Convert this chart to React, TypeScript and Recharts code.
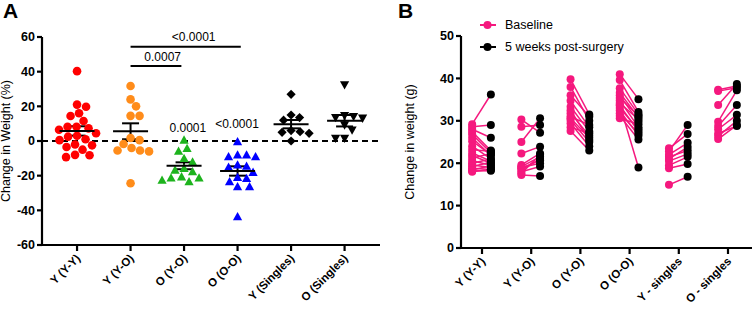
import React from 'react';
import {
  ComposedChart,
  Scatter,
  Line,
  XAxis,
  YAxis,
  ReferenceLine,
  ReferenceDot,
  ErrorBar,
  Legend,
} from 'recharts';

const FONT = '"Liberation Sans", Arial, Helvetica, sans-serif';

// ---------------- Panel A data ----------------
const groupsA = ['Y (Y-Y)', 'Y (Y-O)', 'O (Y-O)', 'O (O-O)', 'Y (Singles)', 'O (Singles)'];
const changeYYY = [40.3, 21, 19.8, 16, 14.4, 11.5, 8.2, 8.2, 7.3, 6.5, 4.5, 3, 2.5, 1, 0.5, -2, -2.5, -3.5, -5, -8, -8.2, -9.3];
const changeYYO = [31.7, 24, 20, 14.5, 14.5, 1.7, 0.5, -1.7, -4, -5.5, -5.5, -6, -24.4];
const changeOYO = [0.6, -4.2, -5.8, -10, -12, -15.7, -16.7, -17.7, -20.6, -21.3, -21.3, -22.5, -23.4];
const changeOOO = [-0.4, -8, -8, -9, -9, -13.8, -14.5, -15, -18, -21, -21.5, -23.4, -26.3, -26.3, -43.6];
const changeYS = [26.9, 15, 13.5, 12, 6, 5.4, 5, 4.4, 0];
const changeOS = [32.3, 14.6, 14, 13.4, 13.1, 9.2, 6.3, 1.5, 1.5];
const meanA = [5.8, 5.6, -14.3, -17.3, 9.7, 11.7];
const semA = [2.7, 4.6, 2.0, 2.7, 2.4, 3.3];
const ticksA = [-60, -40, -20, 0, 20, 40, 60];
const colorsA = ['#ff0000', '#ff8c1a', '#1db31d', '#0000ff', '#000000', '#000000'];
const shapesA = ['circle', 'circle', 'triangle', 'triangle', 'diamond', 'triangleDown'];

// significance brackets
const sigText = ['0.0007', '<0.0001'];
const sigY = [43.2, 54.4];
const sigFrom = [1, 1];
const sigTo = [1.95, 3.06];
const sigTextX = [1.6, 2.18];
const sigTextY = [48.6, 60.2];
// p-values above single groups
const pText = ['0.0001', '<0.0001'];
const pTextX = [2.07, 2.99];
const pTextY = [7.5, 9.8];

// ---------------- Panel B data ----------------
const groupsB = ['Y (Y-Y)', 'Y (Y-O)', 'O (Y-O)', 'O (O-O)', 'Y - singles', 'O - singles'];
const baseYYY = [29.2, 28.6, 28.0, 27.4, 26.8, 26.0, 25.2, 24.0, 23.2, 22.4, 21.8, 21.2, 20.6, 20.0, 19.6, 19.2, 18.8, 18.4, 18.0, 18.2];
const postYYY = [36.2, 29.0, 26.0, 23.0, 22.5, 21.8, 22.0, 21.0, 22.8, 20.5, 20.0, 22.3, 19.5, 21.0, 19.0, 20.2, 18.5, 19.4, 18.6, 18.2];
const baseYYO = [30.3, 28.6, 25.0, 22.3, 19.6, 19.2, 18.8, 18.4, 18.0, 17.6, 17.2, 19.0];
const postYYO = [27.2, 29.0, 30.6, 23.9, 22.3, 21.5, 20.7, 21.0, 19.2, 22.0, 17.0, 20.0];
const baseOYO = [39.8, 38.0, 34.7, 33.3, 31.8, 31.0, 30.2, 29.4, 28.5, 27.6, 32.5, 30.6, 36.0];
const postOYO = [31.5, 30.0, 28.5, 27.5, 26.5, 29.0, 25.0, 24.0, 27.0, 23.0, 25.5, 26.0, 31.0];
const baseOOO = [41.0, 39.6, 37.7, 36.6, 36.0, 35.4, 34.8, 34.2, 33.6, 33.0, 32.4, 31.8, 31.2, 30.6, 33.8];
const postOOO = [35.1, 32.1, 31.5, 30.8, 29.8, 31.2, 28.5, 30.3, 27.5, 28.0, 26.5, 27.0, 25.6, 29.2, 19.0];
const baseYS = [22.8, 23.5, 22.0, 21.0, 21.5, 20.5, 19.5, 18.8, 14.9];
const postYS = [29.0, 26.9, 24.8, 23.8, 23.0, 22.2, 21.5, 19.8, 16.8];
const baseOS = [37.3, 37.0, 33.7, 29.8, 28.8, 28.0, 27.0, 26.4, 25.7];
const postOS = [38.2, 37.8, 38.7, 37.2, 33.7, 31.4, 28.8, 30.0, 29.0];
const ticksB = [0, 10, 20, 30, 40, 50];
const legendLabels = ['Baseline', '5 weeks post-surgery'];
const PINK = '#f5187e';
const legendColors = [PINK, '#000000'];

// ---------------- helpers ----------------
function swarmOffsets(values: number[], pxPerY: number, pxPerX: number, diam: number): number[] {
  const order = values.map((_, i) => i).sort((a, b) => values[b] - values[a]);
  const placed: { x: number; y: number }[] = [];
  const out = new Array(values.length).fill(0);
  for (const i of order) {
    const y = values[i] * pxPerY;
    let chosen = 0;
    for (let k = 0; k < 400; k++) {
      const c = k === 0 ? 0 : (k % 2 === 1 ? 1 : -1) * Math.ceil(k / 2) * 0.5;
      if (placed.every((p) => (p.x - c) ** 2 + (p.y - y) ** 2 >= diam * diam)) {
        chosen = c;
        break;
      }
    }
    placed.push({ x: chosen, y });
    out[i] = chosen / pxPerX;
  }
  return out;
}

const seriesA = [changeYYY, changeYYO, changeOYO, changeOOO, changeYS, changeOS];
const pointsA = seriesA.map((vals, g) => {
  const offs = swarmOffsets(vals, 208 / 120, 53.5, 8.8);
  return vals.map((v, i) => ({ x: g + offs[i], y: v }));
});
const meanData = meanA.map((m, g) => ({ x: g, y: m, err: semA[g] }));

const pairsB = [
  [baseYYY, postYYY],
  [baseYYO, postYYO],
  [baseOYO, postOYO],
  [baseOOO, postOOO],
  [baseYS, postYS],
  [baseOS, postOS],
];

const makeShape = (kind: string, color: string) => (p: any) => {
  const { cx, cy } = p;
  if (cx == null || cy == null) return <g />;
  const s = 4.6;
  if (kind === 'circle') return <circle cx={cx} cy={cy} r={4.3} fill={color} />;
  if (kind === 'triangle')
    return <polygon points={`${cx},${cy - s} ${cx + s},${cy + s * 0.8} ${cx - s},${cy + s * 0.8}`} fill={color} />;
  if (kind === 'triangleDown')
    return <polygon points={`${cx - s},${cy - s * 0.8} ${cx + s},${cy - s * 0.8} ${cx},${cy + s}`} fill={color} />;
  return <polygon points={`${cx},${cy - s} ${cx + s},${cy} ${cx},${cy + s} ${cx - s},${cy}`} fill={color} />;
};

const MeanShape = (p: any) => {
  const { cx, cy } = p;
  if (cx == null || cy == null) return <g />;
  return <line x1={cx - 17.5} x2={cx + 17.5} y1={cy} y2={cy} stroke="#000" strokeWidth={2} />;
};

const makeXTick = (labels: string[]) => (props: any) => {
  const { x, y, payload } = props;
  const tx = x + 4;
  const ty = y + 6;
  return (
    <text
      x={tx}
      y={ty}
      transform={`rotate(-45 ${tx} ${ty})`}
      textAnchor="end"
      fontSize={11.5}
      fontWeight="bold"
      fill="#000"
      fontFamily={FONT}
    >
      {labels[Math.round(payload.value)]}
    </text>
  );
};

const AxisTitle = (props: any) => {
  const { viewBox, text, bx, fallbackY } = props;
  const y = viewBox && viewBox.height ? viewBox.y + viewBox.height / 2 : fallbackY;
  return (
    <text
      x={bx}
      y={y}
      transform={`rotate(-90 ${bx} ${y})`}
      textAnchor="middle"
      fontSize={12.5}
      fill="#000"
      fontFamily={FONT}
    >
      {text}
    </text>
  );
};

const textShape = (label: string) => (p: any) => (
  <text x={p.cx} y={p.cy} dy="0.35em" textAnchor="middle" fontSize={12} fill="#000" fontFamily={FONT}>
    {label}
  </text>
);

const BDot = (p: any) => {
  const { cx, cy, index } = p;
  if (cx == null || cy == null) return <g key={p.key} />;
  return <circle key={p.key} cx={cx} cy={cy} r={4} fill={index === 0 ? PINK : '#000'} />;
};

const LegendContent = () => (
  <div style={{ fontFamily: FONT, fontSize: 12.5, color: '#000' }}>
    {legendLabels.map((lab, i) => (
      <div key={lab} style={{ display: 'flex', alignItems: 'center', height: 22 }}>
        <svg width={16} height={10} style={{ display: 'block' }}>
          <line x1={0} x2={16} y1={5} y2={5} stroke={legendColors[i]} strokeWidth={2} />
          <circle cx={7.5} cy={5} r={4} fill={legendColors[i]} />
        </svg>
        <span style={{ marginLeft: 9, whiteSpace: 'nowrap' }}>{lab}</span>
      </div>
    ))}
  </div>
);

const axisStyle = { stroke: '#000', strokeWidth: 2.2 };
const yTickStyle = { fontSize: 12.5, fontWeight: 'bold', fill: '#000', fontFamily: FONT };

export default function App() {
  return (
    <div style={{ position: 'absolute', left: 0, top: 0, width: 754, height: 310, background: '#fff' }}>
      <div style={{ position: 'absolute', left: 0, top: 0 }}>
        <ComposedChart width={380} height={310} margin={{ top: 37, right: 0, bottom: 5, left: 0 }}>
          <XAxis
            type="number"
            dataKey="x"
            domain={[-0.655, 5.662]}
            ticks={[0, 1, 2, 3, 4, 5]}
            height={60}
            tickSize={6}
            tickLine={axisStyle}
            axisLine={axisStyle}
            tick={makeXTick(groupsA)}
            interval={0}
          />
          <YAxis
            type="number"
            dataKey="y"
            domain={[-60, 60]}
            ticks={ticksA}
            width={42}
            tickSize={5}
            tickMargin={2}
            tickLine={axisStyle}
            axisLine={axisStyle}
            tick={yTickStyle}
            interval={0}
            label={<AxisTitle text="Change in Weight (%)" bx={10} fallbackY={141} />}
          />
          <ReferenceLine y={0} stroke="#000" strokeWidth={2} strokeDasharray="6 4" />
          {sigText.map((t, i) => (
            <ReferenceLine
              key={'sb' + i}
              segment={[
                { x: sigFrom[i], y: sigY[i] },
                { x: sigTo[i], y: sigY[i] },
              ]}
              stroke="#000"
              strokeWidth={2}
              ifOverflow="visible"
            />
          ))}
          {sigText.map((t, i) => (
            <ReferenceDot key={'st' + i} x={sigTextX[i]} y={sigTextY[i]} r={0} ifOverflow="visible" shape={textShape(t)} />
          ))}
          {pText.map((t, i) => (
            <ReferenceDot key={'pt' + i} x={pTextX[i]} y={pTextY[i]} r={0} ifOverflow="visible" shape={textShape(t)} />
          ))}
          {pointsA.map((pts, g) => (
            <Scatter
              key={'g' + g}
              data={pts}
              isAnimationActive={false}
              shape={makeShape(shapesA[g], colorsA[g])}
            />
          ))}
          <Scatter data={meanData} isAnimationActive={false} shape={MeanShape}>
            <ErrorBar dataKey="err" direction="y" width={8.5} stroke="#000" strokeWidth={2} />
          </Scatter>
        </ComposedChart>
      </div>
      <div style={{ position: 'absolute', left: 380, top: 0 }}>
        <ComposedChart width={374} height={310} margin={{ top: 36, right: 2, bottom: 2, left: 0 }}>
          <XAxis
            type="number"
            dataKey="x"
            domain={[-0.427, 5.488]}
            ticks={[0, 1, 2, 3, 4, 5]}
            height={60}
            tickSize={6}
            tickLine={axisStyle}
            axisLine={axisStyle}
            tick={makeXTick(groupsB)}
            interval={0}
          />
          <YAxis
            type="number"
            dataKey="y"
            domain={[0, 50]}
            ticks={ticksB}
            width={81}
            tickSize={5}
            tickMargin={2}
            tickLine={axisStyle}
            axisLine={axisStyle}
            tick={yTickStyle}
            interval={0}
            label={<AxisTitle text="Change in weight (g)" bx={34} fallbackY={142} />}
          />
          <Legend
            verticalAlign="middle"
            align="center"
            layout="horizontal"
            wrapperStyle={{ position: 'absolute', top: 14, left: 100, width: 220, height: 44 }}
            content={LegendContent}
          />
          {pairsB.map(([base, post], g) =>
            base.map((b, j) => (
              <Line
                key={`b${g}-${j}`}
                data={[
                  { x: g - 0.2, y: b },
                  { x: g + 0.18, y: post[j] },
                ]}
                dataKey="y"
                stroke={PINK}
                strokeWidth={1.5}
                dot={BDot}
                activeDot={false}
                legendType="none"
                isAnimationActive={false}
              />
            ))
          )}
        </ComposedChart>
      </div>
      <svg width={754} height={30} style={{ position: 'absolute', left: 0, top: 0, pointerEvents: 'none' }}>
        <text x={3} y={18} fontSize={21} fontWeight="bold" fontFamily={FONT} fill="#000">
          A
        </text>
        <text x={398} y={18} fontSize={21} fontWeight="bold" fontFamily={FONT} fill="#000">
          B
        </text>
      </svg>
    </div>
  );
}
